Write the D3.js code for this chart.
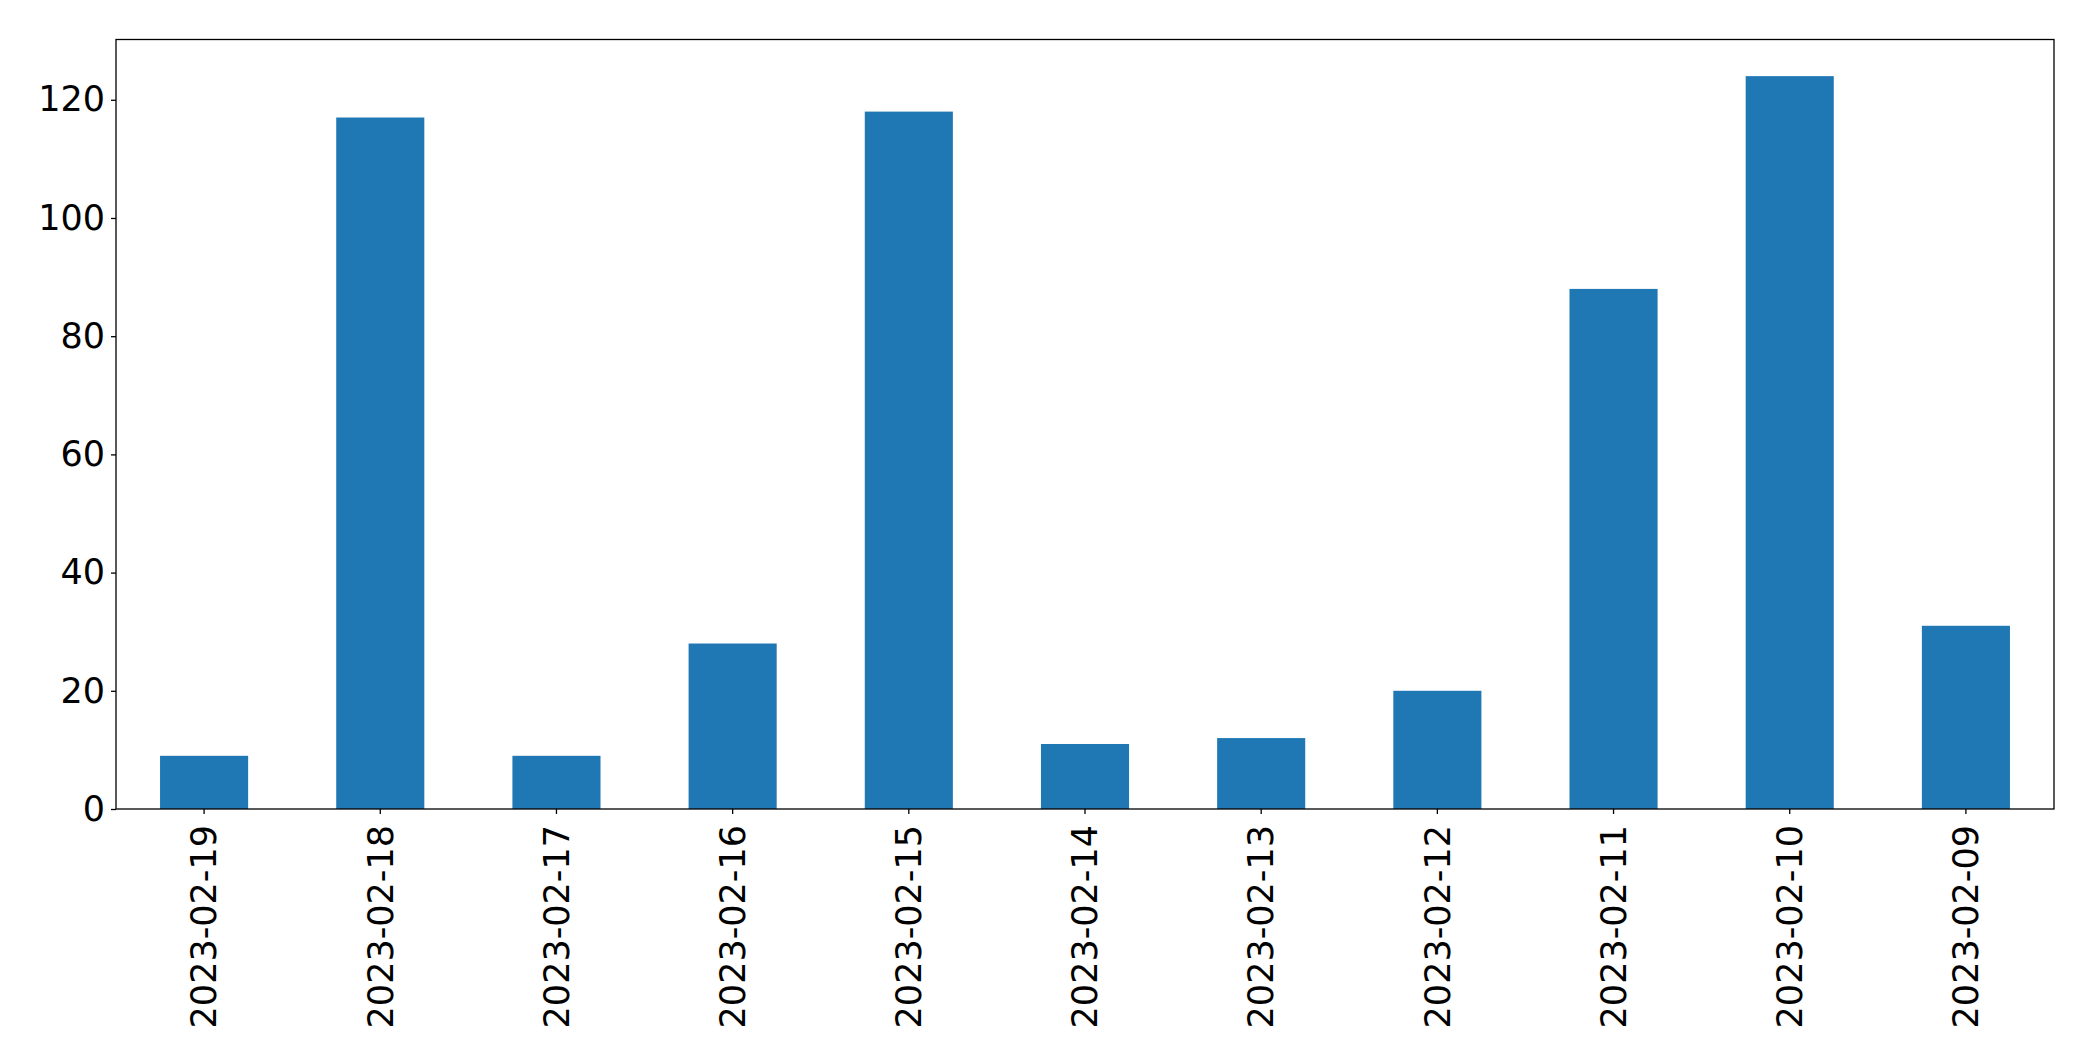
<!DOCTYPE html>
<html>
<head>
<meta charset="utf-8">
<script src="https://cdn.jsdelivr.net/npm/d3@7"></script>
<style>
  html, body { margin: 0; padding: 0; background: #fff; }
  svg { display: block; }
  text { font-family: "DejaVu Sans", sans-serif; fill: #000; }
</style>
</head>
<body>
<script>
const categories = ["2023-02-19","2023-02-18","2023-02-17","2023-02-16","2023-02-15","2023-02-14","2023-02-13","2023-02-12","2023-02-11","2023-02-10","2023-02-09"];
const values = [9, 117, 9, 28, 118, 11, 12, 20, 88, 124, 31];
const yTicks = [0, 20, 40, 60, 80, 100, 120];

const W = 2093, H = 1061;
const margin = { left: 116, right: 2093 - 2054, top: 39.5, bottom: 1061 - 809 };
const iw = W - margin.left - margin.right;
const ih = H - margin.top - margin.bottom;

const svg = d3.select("body").append("svg").attr("width", W).attr("height", H);
const g = svg.append("g").attr("transform", `translate(${margin.left},${margin.top})`);

const x = d3.scaleBand().domain(categories).range([0, iw]).paddingInner(0.5).paddingOuter(0.25);
const y = d3.scaleLinear().domain([0, d3.max(values) * 1.05]).range([ih, 0]);

g.selectAll("rect.bar").data(values).enter().append("rect")
  .attr("class", "bar")
  .attr("x", (d, i) => x(categories[i]))
  .attr("width", x.bandwidth())
  .attr("y", d => y(d))
  .attr("height", d => ih - y(d))
  .attr("fill", "#1f77b4");

const yAxis = g.append("g").call(d3.axisLeft(y).tickValues(yTicks).tickSize(5).tickPadding(6).tickFormat(d3.format("d")));
yAxis.select(".domain").remove();
yAxis.selectAll("line").attr("stroke", "#000").attr("stroke-width", 1.3);
yAxis.selectAll("text").attr("font-size", 35).attr("font-family", "DejaVu Sans, sans-serif").attr("fill", "#000");

const xAxis = g.append("g").attr("transform", `translate(0,${ih})`).call(d3.axisBottom(x).tickSize(5));
xAxis.select(".domain").remove();
xAxis.selectAll("line").attr("stroke", "#000").attr("stroke-width", 1.3);
xAxis.selectAll("text")
  .attr("font-size", 35).attr("font-family", "DejaVu Sans, sans-serif").attr("fill", "#000")
  .attr("transform", "rotate(-90)")
  .attr("text-anchor", "end")
  .attr("x", -16).attr("y", 0).attr("dy", "0.35em");

g.append("rect").attr("x", 0).attr("y", 0).attr("width", iw).attr("height", ih)
  .attr("fill", "none").attr("stroke", "#000").attr("stroke-width", 1.3);
</script>
</body>
</html>
